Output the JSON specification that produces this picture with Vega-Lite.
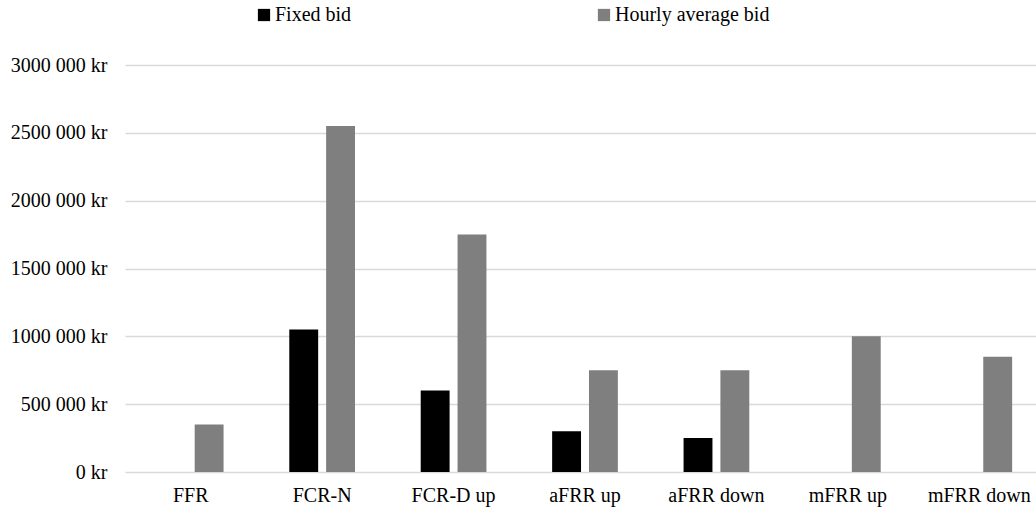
{
  "$schema": "https://vega.github.io/schema/vega-lite/v6.json",
  "autosize": "none",
  "padding": {"left": 125, "top": 65, "right": 0, "bottom": 36},
  "width": 920,
  "height": 407,
  "background": "#ffffff",
  "config": {
    "font": "Liberation Serif",
    "view": {"stroke": null},
    "axis": {"labelFont": "Liberation Serif", "labelFontSize": 20, "labelColor": "#000000"}
  },
  "data": {
    "values": [
      {"market": "FFR", "bid": "Hourly average bid", "value": 350000},
      {"market": "FCR-N", "bid": "Fixed bid", "value": 1050000},
      {"market": "FCR-N", "bid": "Hourly average bid", "value": 2550000},
      {"market": "FCR-D up", "bid": "Fixed bid", "value": 600000},
      {"market": "FCR-D up", "bid": "Hourly average bid", "value": 1750000},
      {"market": "aFRR up", "bid": "Fixed bid", "value": 300000},
      {"market": "aFRR up", "bid": "Hourly average bid", "value": 750000},
      {"market": "aFRR down", "bid": "Fixed bid", "value": 250000},
      {"market": "aFRR down", "bid": "Hourly average bid", "value": 750000},
      {"market": "mFRR up", "bid": "Hourly average bid", "value": 1000000},
      {"market": "mFRR down", "bid": "Hourly average bid", "value": 850000}
    ]
  },
  "mark": {"type": "bar"},
  "encoding": {
    "x": {
      "field": "market",
      "type": "nominal",
      "sort": ["FFR", "FCR-N", "FCR-D up", "aFRR up", "aFRR down", "mFRR up", "mFRR down"],
      "scale": {"paddingInner": 0.5, "paddingOuter": 0.25},
      "axis": {
        "title": null,
        "labelAngle": 0,
        "ticks": false,
        "domain": false,
        "labelPadding": 13,
        "labelBaseline": "top"
      }
    },
    "xOffset": {
      "field": "bid",
      "type": "nominal",
      "scale": {"domain": ["Fixed bid", "Hourly average bid"], "paddingInner": 0.216, "paddingOuter": 0}
    },
    "y": {
      "field": "value",
      "type": "quantitative",
      "scale": {"domain": [0, 3000000], "nice": false},
      "axis": {
        "title": null,
        "values": [0, 500000, 1000000, 1500000, 2000000, 2500000, 3000000],
        "labelExpr": "datum.value == 0 ? '0 kr' : floor(datum.value / 1000) + ' 000 kr'",
        "ticks": false,
        "domain": false,
        "labelPadding": 18,
        "grid": true,
        "gridColor": "#d9d9d9",
        "gridWidth": 1.3
      }
    },
    "color": {
      "field": "bid",
      "type": "nominal",
      "scale": {"domain": ["Fixed bid", "Hourly average bid"], "range": ["#000000", "#7f7f7f"]},
      "legend": {
        "title": null,
        "orient": "none",
        "direction": "horizontal",
        "legendX": 129,
        "legendY": -60,
        "padding": 0,
        "symbolType": "square",
        "symbolSize": 150,
        "symbolStrokeWidth": 0,
        "labelOffset": 1,
        "labelFont": "Liberation Serif",
        "labelFontSize": 20,
        "labelColor": "#000000",
        "columnPadding": 242
      }
    }
  }
}
